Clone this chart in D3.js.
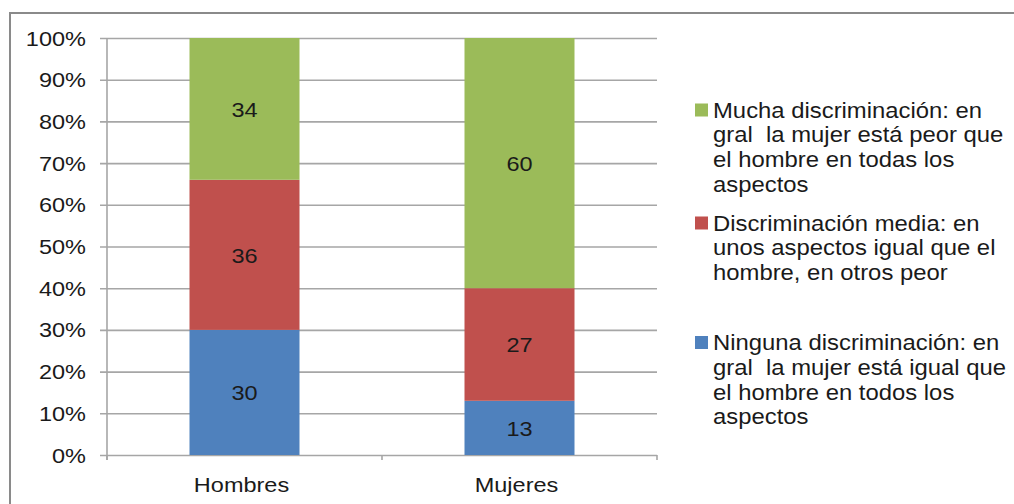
<!DOCTYPE html>
<html><head><meta charset="utf-8">
<script src="https://cdn.jsdelivr.net/npm/d3@7"></script>
<style>
html,body{margin:0;padding:0;background:#fff;}
svg text{font-family:"Liberation Sans",Arial,sans-serif;white-space:pre;}
</style></head>
<body>
<svg id="chart" width="1014" height="504"></svg>
<script>
// ---- data ----
const categories = ["Hombres", "Mujeres"];
const ninguna = [30, 13];
const media = [36, 27];
const mucha = [34, 60];
const yTicks = [0, 10, 20, 30, 40, 50, 60, 70, 80, 90, 100];
const seriesKeys = ["ninguna", "media", "mucha"];
const seriesColors = ["#4F81BD", "#C0504D", "#9BBB59"];
const legendMucha = ["Mucha discriminación: en", "gral  la mujer está peor que", "el hombre en todas los", "aspectos"];
const legendMedia = ["Discriminación media: en", "unos aspectos igual que el", "hombre, en otros peor"];
const legendNinguna = ["Ninguna discriminación: en", "gral  la mujer está igual que", "el hombre en todos los", "aspectos"];

// ---- layout ----
const svg = d3.select("#chart");
const SX = 1.12, FS = 21;
const plot = {left: 107, right: 657, top: 38, bottom: 455};

// outer border
svg.append("rect").attr("x", 10).attr("y", 13).attr("width", 1030).attr("height", 520)
  .attr("fill", "none").attr("stroke", "#8a8a8a").attr("stroke-width", 2);

const y = d3.scaleLinear().domain([0, 100]).range([plot.bottom, plot.top]);
const x = d3.scaleBand().domain(categories).range([plot.left, plot.right]).padding(0);
const barW = x.bandwidth() * 0.4;

function stext(g, tx, ty, str, anchor, fs) {
  return g.append("text").attr("transform", `translate(${tx},${ty}) scale(${SX},1)`)
    .attr("text-anchor", anchor || "start").attr("font-size", fs || FS).attr("fill", "#1a1a1a").text(str);
}

// gridlines via d3 axis
const yAxis = d3.axisLeft(y).tickValues(yTicks).tickSize(-(plot.right - plot.left + 7)).tickFormat(d => d + "%");
const yg = svg.append("g").attr("transform", `translate(${plot.left - 7},0)`).call(yAxis);
yg.select(".domain").remove();
yg.selectAll(".tick line").attr("stroke", "#a6a6a6").attr("stroke-width", 1.6);
yg.selectAll(".tick text").remove();
yTicks.forEach(t => {
  stext(svg, 86, y(t) + 7.5, t + "%", "end");
});
// y axis line
svg.append("line").attr("x1", plot.left).attr("x2", plot.left).attr("y1", plot.top).attr("y2", plot.bottom + 5)
  .attr("stroke", "#a6a6a6").attr("stroke-width", 1.6);
// category tick marks
[plot.left, plot.left + x.step(), plot.right].forEach(px => {
  svg.append("line").attr("x1", px).attr("x2", px).attr("y1", plot.bottom).attr("y2", plot.bottom + 5)
    .attr("stroke", "#a6a6a6").attr("stroke-width", 1.6);
});

// stacked bars
const rows = categories.map((c, i) => ({cat: c, ninguna: ninguna[i], media: media[i], mucha: mucha[i]}));
const stacked = d3.stack().keys(seriesKeys)(rows);
stacked.forEach((layer, li) => {
  layer.forEach(seg => {
    const cx = x(seg.data.cat) + x.bandwidth() / 2;
    svg.append("rect").attr("x", cx - barW / 2).attr("width", barW)
      .attr("y", y(seg[1])).attr("height", y(seg[0]) - y(seg[1]))
      .attr("fill", seriesColors[li]);
    stext(svg, cx, (y(seg[0]) + y(seg[1])) / 2 + 8, String(seg[1] - seg[0]), "middle");
  });
});

// category labels
categories.forEach(c => {
  stext(svg, x(c) + x.bandwidth() / 2 - 3, 492, c, "middle");
});

// legend
const legendEntries = [
  {lines: legendMucha, color: seriesColors[2], base: 117.5},
  {lines: legendMedia, color: seriesColors[1], base: 230.5},
  {lines: legendNinguna, color: seriesColors[0], base: 350}
];
legendEntries.forEach(e => {
  svg.append("rect").attr("x", 695).attr("y", e.base - 14).attr("width", 13).attr("height", 13).attr("fill", e.color);
  e.lines.forEach((l, i) => stext(svg, 713, e.base + i * 24.8, l, "start", 21.3));
});
</script>
</body></html>
